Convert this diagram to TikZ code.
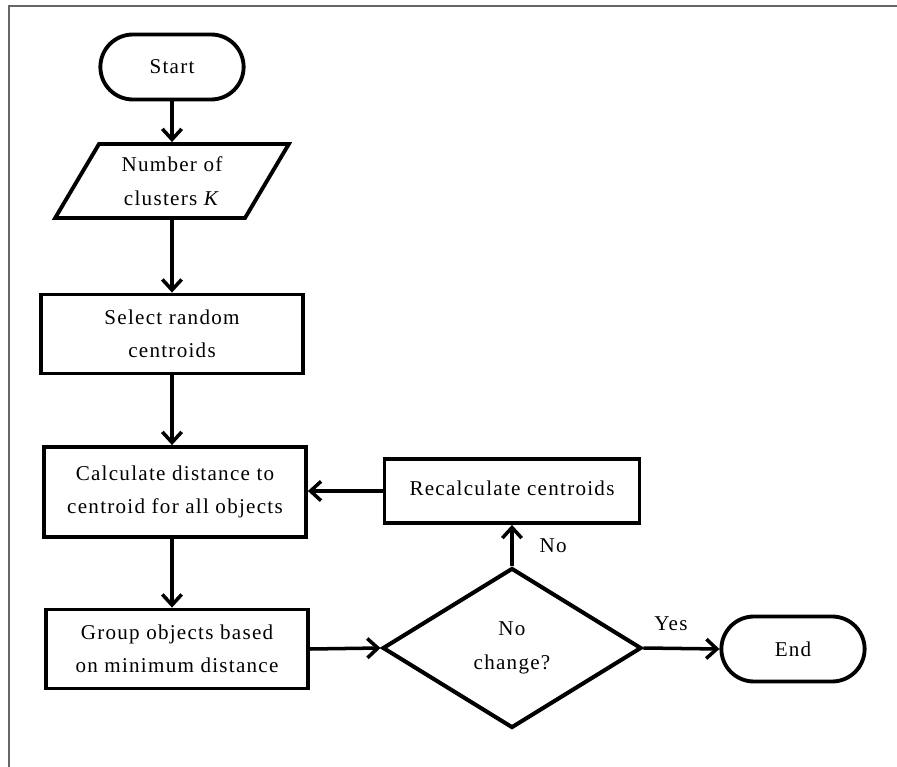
\documentclass[tikz,border=0pt]{standalone}
\usepackage{fontspec}
\setmainfont[LetterSpace=6]{Liberation Serif}
\usepackage{tikz}
\usetikzlibrary{arrows.meta,shapes.geometric,shapes.misc,positioning}

\tikzset{
	every node/.style={font=\fontsize{12}{19}\selectfont, align=center},
	terminal/.style={draw, line width=2.2pt, rounded rectangle, minimum width=3.1cm, minimum height=1.3cm},
	inputbox/.style={draw, line width=2.2pt, trapezium, trapezium left angle=58, trapezium right angle=122,
		trapezium stretches=true, minimum width=4.72cm, minimum height=1.48cm, inner sep=0pt},
	process/.style={draw, line width=2.2pt, rectangle, minimum width=5.24cm, minimum height=1.58cm},
	decision/.style={draw, line width=2.3pt, diamond, minimum width=5.18cm, minimum height=3.2cm, inner sep=0pt},
	flow/.style={draw, line width=2pt, -{Straight Barb[length=6pt,width=11pt]}}
}

\begin{document}
\begin{tikzpicture}[x=0.02cm, y=-0.02cm]
	\useasboundingbox (0,0) rectangle (897,767);
	
	% Frame on the top and left side
	\draw[gray!80!black, line width=0.9pt] (9,767) |- (897,6);
	
	% Main column of steps
	\node[terminal] (start) at (172,67) {Start};
	\node[inputbox] (input) at (172,181) {Number of\\clusters \textit{K}};
	\node[process] (select) at (172,334) {Select random\\centroids};
	\node[process, minimum height=1.8cm] (calc) at (175,492) {Calculate distance to\\centroid for all objects};
	\node[process] (group) at (177,649) {Group objects based\\on minimum distance};
	
	% Test and loop back
	\node[decision] (test) at (512,648) {No\\change?};
	\node[process, minimum width=5.1cm, minimum height=1.28cm] (recalc) at (512,491) {\raisebox{3pt}{Recalculate centroids}};
	\node[terminal] (end) at (793,649) {End};
	
	% Draw arrows down the column
	\foreach \a/\b in {start/input, input/select, select/calc, calc/group}
		\path[flow] (\a.south -| 172,0) -- (\b.north -| 172,0);
	
	% Draw arrows around the test
	\path[flow] (group.east) -- (test.west);
	\path[flow] (test.north) -- node[right=4mm] {No} (recalc.south);
	\path[flow] (recalc.west) -- (calc.east |- recalc.west);
	\path[flow] (test.east) -- node[above=2mm, xshift=-6] {Yes} (end.west);
\end{tikzpicture}
\end{document}
